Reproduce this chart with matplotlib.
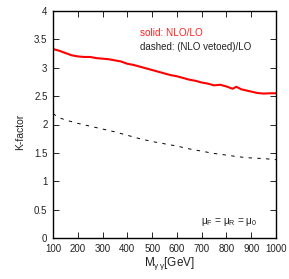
import matplotlib
matplotlib.use("Agg")
import matplotlib.pyplot as plt

# data
m_solid = [100, 125, 150, 175, 200, 225, 250, 275, 300, 325, 350, 375, 400, 425, 450,
           475, 500, 525, 550, 575, 600, 625, 650, 675, 700, 725, 750, 775, 800, 825,
           840, 860, 880, 900, 925, 950, 975, 1000]
k_solid = [3.33, 3.30, 3.26, 3.22, 3.20, 3.19, 3.19, 3.17, 3.16, 3.15, 3.13, 3.11, 3.07,
           3.05, 3.02, 2.99, 2.96, 2.93, 2.90, 2.87, 2.85, 2.82, 2.79, 2.77, 2.74, 2.72,
           2.69, 2.70, 2.67, 2.63, 2.665, 2.62, 2.60, 2.58, 2.555, 2.545, 2.55, 2.55]
m_dash = [100, 125, 150, 175, 200, 250, 300, 350, 400, 450, 500, 550, 600, 650, 700,
          750, 800, 850, 900, 950, 1000]
k_dash = [2.19, 2.12, 2.08, 2.05, 2.02, 1.97, 1.92, 1.87, 1.81, 1.75, 1.70, 1.66, 1.62,
          1.57, 1.53, 1.49, 1.46, 1.43, 1.41, 1.40, 1.38]
xticks = [100, 200, 300, 400, 500, 600, 700, 800, 900, 1000]
yticks = [0, 0.5, 1, 1.5, 2, 2.5, 3, 3.5, 4]
yticklabels = ["0", "0.5", "1", "1.5", "2", "2.5", "3", "3.5", "4"]

plt.rcParams['font.family'] = ['Liberation Sans', 'DejaVu Sans']
plt.rcParams['mathtext.fontset'] = 'custom'
plt.rcParams['mathtext.rm'] = 'Liberation Sans'
plt.rcParams['mathtext.it'] = 'Liberation Sans'

W, H = 289, 279
fig = plt.figure(figsize=(W / 100, H / 100), dpi=100)
ax = fig.add_axes([53 / W, 1 - 238 / H, (276 - 53) / W, (238 - 11) / H])

ax.plot(m_solid, k_solid, color='#ff0000', lw=1.5)
ax.plot(m_dash, k_dash, color='black', lw=0.7, dashes=(3.5, 5.5))

ax.set_xlim(100, 1000)
ax.set_ylim(0, 4)
ax.set_xticks(xticks)
ax.set_yticks(yticks)
ax.set_yticklabels(yticklabels)
ax.tick_params(direction='in', length=4, width=0.6, labelsize=7, top=True, right=True,
               pad=4, colors='black', labelcolor='#222222')
for s in ax.spines.values():
    s.set_linewidth(1.0)

fig.text(20 / W, 1 - 132 / H, "K-factor", rotation=90, ha='center', va='center',
         fontsize=7.5, color='#222222')
fig.text(144 / W, 1 - 263 / H, r"M$_{\gamma\,\gamma}$[GeV]", ha='left', va='center',
         fontsize=8.5, color='#222222')
fig.text(140 / W, 1 - 33 / H, "solid: NLO/LO", ha='left', va='center',
         fontsize=7.2, color='#ff2020')
fig.text(140 / W, 1 - 47.5 / H, "dashed: (NLO vetoed)/LO", ha='left', va='center',
         fontsize=7, color='#222222')
fig.text(201 / W, 1 - 221.5 / H, r"$\mu_F$ = $\mu_R$ = $\mu_0$", ha='left', va='center',
         fontsize=7.3, color='#222222')

fig.savefig("out.png", dpi=100)
